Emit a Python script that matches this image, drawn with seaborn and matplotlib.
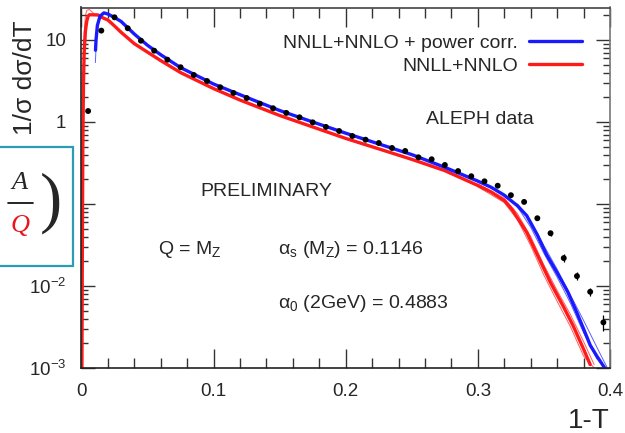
import numpy as np
import pandas as pd
import matplotlib
matplotlib.use("Agg")
import matplotlib.pyplot as plt
import matplotlib.ticker as mticker
from matplotlib.patches import Rectangle
from matplotlib.lines import Line2D
import seaborn as sns

# ALEPH thrust data (bin centres, 1/sigma dsigma/dT)
data_x = [0.005, 0.015, 0.025, 0.035, 0.045, 0.055, 0.065, 0.075, 0.085, 0.095,
          0.105, 0.115, 0.125, 0.135, 0.145, 0.155, 0.165, 0.175, 0.185, 0.195,
          0.205, 0.215, 0.225, 0.235, 0.245, 0.255, 0.265, 0.275, 0.285, 0.295,
          0.305, 0.315, 0.325, 0.335, 0.345, 0.355, 0.365, 0.375, 0.385, 0.395]
data_y = [1.36, 13.0, 18.9, 13.9, 9.8, 7.4, 5.75, 4.65, 3.74, 3.16,
          2.65, 2.26, 1.96, 1.67, 1.47, 1.29, 1.14, 0.99, 0.87, 0.776,
          0.674, 0.608, 0.554, 0.482, 0.443, 0.371, 0.351, 0.299, 0.252, 0.218,
          0.189, 0.167, 0.128, 0.106, 0.067, 0.044, 0.0219, 0.0132, 0.0085, 0.0036]
data_err = [0.05, 0.3, 0.3, 0.2, 0.1, 0.08, 0.06, 0.05, 0.04, 0.03,
            0.03, 0.02, 0.02, 0.02, 0.015, 0.013, 0.012, 0.01, 0.009, 0.008,
            0.007, 0.006, 0.006, 0.005, 0.005, 0.004, 0.004, 0.004, 0.003, 0.003,
            0.003, 0.003, 0.003, 0.003, 0.003, 0.003, 0.0025, 0.0015, 0.001, 0.0008]

# NNLL+NNLO + power corrections (blue)
pc_x = [0.0106, 0.011, 0.012, 0.014, 0.017, 0.02, 0.025, 0.03, 0.04, 0.05,
        0.06, 0.075, 0.1, 0.12, 0.15, 0.175, 0.2, 0.225, 0.25, 0.275,
        0.3, 0.31, 0.32, 0.33, 0.337, 0.345, 0.352, 0.36, 0.368, 0.375,
        0.38, 0.385, 0.39, 0.396]
pc_y = [7.5, 10.0, 15.0, 19.5, 21.4, 20.7, 18.8, 16.8, 11.8, 8.6,
        6.6, 4.6, 2.9, 2.15, 1.38, 1.0, 0.73, 0.54, 0.40, 0.28,
        0.19, 0.16, 0.128, 0.095, 0.072, 0.042, 0.024, 0.0145, 0.0085, 0.0047,
        0.003, 0.0019, 0.0014, 0.001]

# NNLL+NNLO (red)
nn_x = [0.0003, 0.0006, 0.001, 0.0015, 0.002, 0.003, 0.004, 0.005, 0.006, 0.0125,
        0.015, 0.02, 0.025, 0.03, 0.04, 0.05, 0.06, 0.075, 0.1, 0.12,
        0.15, 0.175, 0.2, 0.225, 0.25, 0.275, 0.3, 0.31, 0.32, 0.326,
        0.337, 0.345, 0.355, 0.365, 0.372, 0.38, 0.385]
nn_y = [0.0008, 0.02, 0.5, 3.0, 7.0, 13.0, 17.0, 19.5, 20.3, 20.2,
        19.0, 17.5, 14.8, 12.4, 9.0, 7.1, 5.6, 4.0, 2.55, 1.85,
        1.2, 0.87, 0.63, 0.47, 0.35, 0.255, 0.168, 0.14, 0.11, 0.085,
        0.045, 0.024, 0.011, 0.0055, 0.0033, 0.0017, 0.0011]

# scale-variation bands (thin lines)
nn_tail_x = [0.30, 0.32, 0.33, 0.34, 0.35, 0.36, 0.37, 0.38, 0.388]
nn_tail_hi = [0.176, 0.118, 0.076, 0.040, 0.018, 0.0088, 0.0045, 0.0021, 0.0011]
nn_tail_lo = [0.162, 0.104, 0.064, 0.031, 0.0135, 0.0065, 0.0032, 0.0014, 0.001]
pc_tail_x = [0.33, 0.34, 0.35, 0.36, 0.37, 0.38, 0.39, 0.398]
pc_tail_hi = [0.10, 0.062, 0.031, 0.016, 0.0078, 0.0038, 0.0018, 0.001]
pc_tail_lo = [0.092, 0.052, 0.025, 0.0128, 0.0062, 0.0027, 0.0013, 0.00095]
nn_peak_x = [0.001, 0.002, 0.003, 0.004, 0.006, 0.008, 0.010, 0.012]
nn_peak_hi = [1.5, 12.0, 20.0, 23.0, 23.5, 22.0, 20.5, 20.2]
pc_peak_x = [0.0105, 0.011, 0.012, 0.014, 0.017]
pc_peak_lo = [5.3, 8.0, 14.0, 19.5, 21.0]

sns.set_style('ticks')
plt.rcParams['font.family'] = ['Liberation Sans', 'DejaVu Sans']
plt.rcParams['mathtext.fontset'] = 'custom'
plt.rcParams['mathtext.rm'] = 'Liberation Sans'
plt.rcParams['mathtext.it'] = 'Liberation Sans:italic'
plt.rcParams['mathtext.default'] = 'regular'

W, H = 625, 433
fig = plt.figure(figsize=(6.25, 4.33), dpi=100)
ax = fig.add_axes([81.5 / W, 1 - 368 / H, (610 - 81.5) / W, (368 - 7.5) / H])

blue = '#1a1aff'
red = '#ff1a1a'

# bands
for xs, ys, c in [(nn_tail_x, nn_tail_hi, red), (nn_tail_x, nn_tail_lo, red),
                  (pc_tail_x, pc_tail_hi, blue), (pc_tail_x, pc_tail_lo, blue),
                  (nn_peak_x, nn_peak_hi, red), (pc_peak_x, pc_peak_lo, blue)]:
    sns.lineplot(x=xs, y=ys, color=c, linewidth=0.7, alpha=0.7, ax=ax,
                 sort=False, estimator=None)

df_pc = pd.DataFrame({'x': pc_x, 'y': pc_y})
df_nn = pd.DataFrame({'x': nn_x, 'y': nn_y})
sns.lineplot(data=df_nn, x='x', y='y', color=red, linewidth=2.4, ax=ax,
             sort=False, estimator=None)
sns.lineplot(data=df_pc, x='x', y='y', color=blue, linewidth=2.4, ax=ax,
             sort=False, estimator=None)

ax.errorbar(data_x, data_y, yerr=data_err, fmt='none', ecolor='black',
            elinewidth=0.9, capsize=0, zorder=5)
sns.scatterplot(x=data_x, y=data_y, color='black', s=18, edgecolor='none',
                ax=ax, zorder=6)

ax.set_yscale('log')
ax.set_xlim(0, 0.4)
ax.set_ylim(1e-3, 10 ** 1.396)

ax.xaxis.set_major_locator(mticker.MultipleLocator(0.1))
ax.xaxis.set_minor_locator(mticker.MultipleLocator(0.02))
ax.xaxis.set_major_formatter(mticker.FuncFormatter(
    lambda v, p: '0' if abs(v) < 1e-9 else f'{v:.1f}'))
ax.yaxis.set_major_locator(mticker.FixedLocator([1e-3, 1e-2, 1e-1, 1, 10]))
ax.yaxis.set_major_formatter(mticker.FixedFormatter(
    [r'$10^{-3}$', r'$10^{-2}$', r'$10^{-1}$', '1', '10']))
ax.yaxis.set_minor_locator(mticker.LogLocator(base=10, subs=np.arange(2, 10)))
ax.yaxis.set_minor_formatter(mticker.NullFormatter())

ax.tick_params(which='both', direction='in', top=True, right=True,
               labelsize=13.5, width=1, color='#333333')
ax.tick_params(which='major', length=14, pad=11)
ax.tick_params(which='minor', length=7)
ax.tick_params(axis='y', which='major', length=10, pad=11)
ax.tick_params(axis='y', which='minor', length=5)
for s in ax.spines.values():
    s.set_linewidth(1.2)
    s.set_color('#222222')
ax.spines['right'].set_color('#777777')
ax.spines['top'].set_color('#444444')

ax.set_xlabel('1-T', fontsize=20, loc='right')
ax.xaxis.set_label_coords(1.0, -0.11)
ax.set_ylabel('1/σ dσ/dT', fontsize=19, loc='top')
ax.yaxis.set_label_coords(-0.084, 0.963)

handles = [Line2D([], [], color=blue, linewidth=2.4),
           Line2D([], [], color=red, linewidth=2.4)]
ax.legend(handles, ['NNLL+NNLO + power corr.', 'NNLL+NNLO'], loc='upper right',
          bbox_to_anchor=(0.98, 0.975), frameon=False, markerfirst=False,
          fontsize=14, handlelength=2.7, handletextpad=0.6, labelspacing=0.28)


def fx(px):
    return (px - 81.5) / (610 - 81.5)


def fy(py):
    return (368 - py) / (368 - 7.5)


ax.text(fx(480), fy(120), 'ALEPH data', fontsize=14, ha='center', va='center',
        transform=ax.transAxes)
ax.text(fx(266), fy(192), 'PRELIMINARY', fontsize=14, ha='center', va='center',
        transform=ax.transAxes)
ax.text(fx(158), fy(250), r'Q = M$_Z$', fontsize=14, ha='left', va='center',
        transform=ax.transAxes)
ax.text(fx(278), fy(250), r'$\alpha_s$ (M$_Z$) = 0.1146', fontsize=14,
        ha='left', va='center', transform=ax.transAxes)
ax.text(fx(278), fy(303), r'$\alpha_0$ (2GeV) = 0.4883', fontsize=14,
        ha='left', va='center', transform=ax.transAxes)

# overlay box from the slide
fig.patches.append(Rectangle((-0.01, 1 - 266 / H), 72.7 / W + 0.01, (266 - 147) / H,
                             transform=fig.transFigure, facecolor='white',
                             edgecolor='#2a9db4', linewidth=1.6, zorder=10))
fig.text(20 / W, 1 - 183 / H, 'A', fontsize=19, family=['Liberation Serif', 'DejaVu Serif'],
         style='italic', ha='center', va='center', zorder=11)
fig.add_artist(Line2D([8 / W, 33 / W], [1 - 203 / H, 1 - 203 / H], color='black',
                      linewidth=1.2, transform=fig.transFigure, zorder=11))
fig.text(20 / W, 1 - 226 / H, 'Q', fontsize=19, family=['Liberation Serif', 'DejaVu Serif'],
         style='italic', color='#e8151b', ha='center', va='center', zorder=11)
fig.text(51 / W, 1 - 203 / H, ')', fontsize=48, family=['Liberation Serif', 'DejaVu Serif'],
         ha='center', va='center', zorder=11)

fig.savefig('out.png', dpi=100)
